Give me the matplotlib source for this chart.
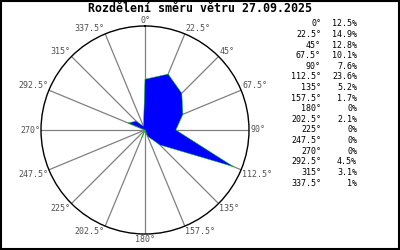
import numpy as np
import matplotlib
matplotlib.use("Agg")
import matplotlib.pyplot as plt
from matplotlib.patches import Rectangle

# ================== DATA ==================

TITLE = "Rozdělení směru větru 27.09.2025"
DIRECTIONS = [0, 22.5, 45, 67.5, 90, 112.5, 135, 157.5,
              180, 202.5, 225, 247.5, 270, 292.5, 315, 337.5]
SHARES = [12.5, 14.9, 12.8, 10.1, 7.6, 23.6, 5.2, 1.7,
          0, 2.1, 0, 0, 0, 4.5, 3.1, 1]
R_MAX = 25.6

MONO = "DejaVu Sans Mono"


def fmt_num(v):
    return f"{v:g}"


# ================== PLOT ==================

fig = plt.figure(figsize=(4, 2.5), dpi=100)
fig.patch.set_facecolor("white")

# center ~ (145,130) px, radius ~104 px
ax = fig.add_axes([(145 - 104) / 400, (250 - 130 - 104) / 250, 208 / 400, 208 / 250],
                  projection="polar")
ax.set_theta_zero_location("N")
ax.set_theta_direction(-1)
ax.set_ylim(0, R_MAX)
ax.grid(False)
ax.set_xticks([])
ax.set_yticks([])
ax.spines["polar"].set_color("black")
ax.spines["polar"].set_linewidth(1.0)

theta = np.deg2rad(DIRECTIONS)

# spokes
for t in theta:
    ax.plot([t, t], [0, R_MAX], color="#808080", lw=0.9, zorder=1)

# rose polygon
th_closed = np.append(theta, theta[0])
val_closed = np.append(SHARES, SHARES[0])
ax.fill(th_closed, val_closed, facecolor="#0000ff", edgecolor="#00cc00",
        lw=0.35, zorder=3)

# angle labels around the circle
for d, t in zip(DIRECTIONS, theta):
    s, c = np.sin(t), np.cos(t)
    if abs(s) < 0.01:
        ha = "center"
    elif s > 0:
        ha = "left"
    else:
        ha = "right"
    if abs(c) < 0.01:
        va = "center"
    elif c > 0:
        va = "bottom"
    else:
        va = "top"
    ax.text(t, R_MAX * 1.01, f"{fmt_num(d)}°", ha=ha, va=va,
            fontsize=6, family=MONO, color="#505050", clip_on=False)

# title
fig.text(0.5, 0.966, TITLE, ha="center", va="center", fontsize=8.4,
         family=MONO, fontweight="bold", color="black")

# right column table
y0, dy = 1 - 24 / 250, 10.6 / 250
for i, (d, p) in enumerate(zip(DIRECTIONS, SHARES)):
    y = y0 - i * dy
    fig.text(321 / 400, y, f"{fmt_num(d)}°", ha="right", va="center",
             fontsize=6, family=MONO, color="black")
    fig.text(357 / 400, y, f"{fmt_num(p)}%", ha="right", va="center",
             fontsize=6, family=MONO, color="black")

# frame
fig.patches.append(Rectangle((0.002, 0.003), 0.995, 0.993, transform=fig.transFigure,
                             fill=False, edgecolor="black", lw=1.5))

fig.savefig("out.png", dpi=100)
